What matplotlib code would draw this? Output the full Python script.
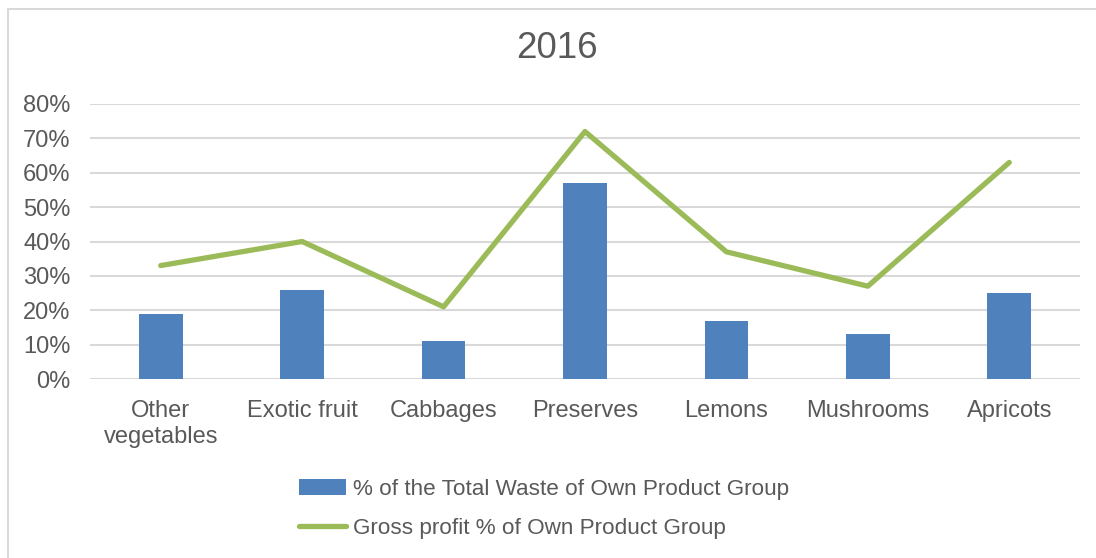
import numpy as np
import matplotlib.pyplot as plt
from matplotlib.ticker import PercentFormatter
from matplotlib.patches import Rectangle

plt.rcParams['font.family'] = ['Liberation Sans', 'DejaVu Sans']

categories = ["Other\nvegetables", "Exotic fruit", "Cabbages", "Preserves",
              "Lemons", "Mushrooms", "Apricots"]
waste_pct = [19, 26, 11, 57, 17, 13, 25]
gross_profit_pct = [33, 40, 21, 72, 37, 27, 63]
yticks = [0, 10, 20, 30, 40, 50, 60, 70, 80]

txt = "#595959"
blue = "#4F81BD"
green = "#9BBB59"

fig = plt.figure(figsize=(10.96, 5.58), dpi=100)
ax = fig.add_axes([90/1096, 1 - 379/558, 990/1096, 275/558])

# chart border (light grey frame)
fig.patches.append(Rectangle((8/1096, -0.1), 1.2, 1 - 9/558 + 0.1, transform=fig.transFigure,
                             fill=False, edgecolor="#D9D9D9", linewidth=1.5))

x = np.arange(len(categories))
bars = ax.bar(x, waste_pct, width=0.31, color=blue, zorder=3,
              label="% of the Total Waste of Own Product Group")
line, = ax.plot(x, gross_profit_pct, color=green, linewidth=3.8, solid_capstyle="round",
                zorder=4, label="Gross profit % of Own Product Group")

ax.set_xlim(-0.5, len(categories) - 0.5)
ax.set_ylim(0, 80)
ax.set_yticks(yticks)
ax.yaxis.set_major_formatter(PercentFormatter(decimals=0))
ax.set_xticks(x)
ax.set_xticklabels(categories, fontsize=17, color=txt, linespacing=1.25)
ax.tick_params(axis="y", labelsize=17, labelcolor=txt, length=0, pad=14)
ax.tick_params(axis="x", length=0, pad=15)
ax.grid(axis="y", color="#D9D9D9", linewidth=1.5, zorder=0)
for s in ax.spines.values():
    s.set_visible(False)

fig.text(557/1096, 1 - 49/558, "2016", ha="center", va="center", fontsize=26.5, color=txt)

fig.legend([bars, line], [bars.get_label(), line.get_label()],
           loc="center", bbox_to_anchor=(544/1096, 1 - 509/558), ncol=1, frameon=False,
           fontsize=16.2, labelcolor=txt, handlelength=2.1, handleheight=0.7,
           handletextpad=0.3, labelspacing=0.8)

plt.savefig("out.png", dpi=100)
